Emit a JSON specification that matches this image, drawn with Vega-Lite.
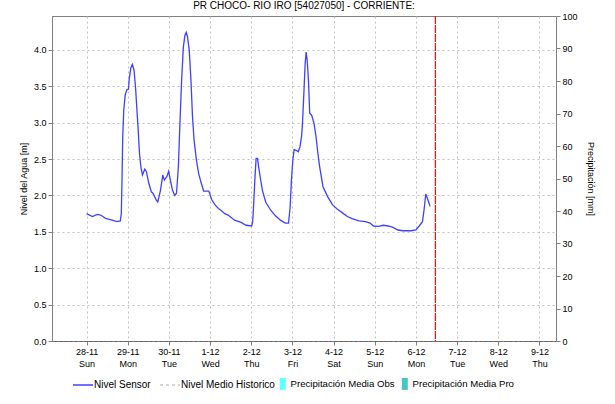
{
  "$schema": "https://vega.github.io/schema/vega-lite/v6.json",
  "width": 504,
  "height": 325,
  "autosize": {"type": "none"},
  "padding": {"left": 52, "top": 16, "right": 59, "bottom": 63},
  "background": "white",
  "title": {"text": "PR CHOCO- RIO IRO [54027050] - CORRIENTE:", "font": "Liberation Sans", "fontSize": 10, "fontWeight": "normal", "color": "#000000", "anchor": "middle", "offset": 1},
  "config": {
    "view": {"stroke": "#808080", "strokeWidth": 1},
    "axis": {"labelFont": "Liberation Sans", "labelFontSize": 9, "labelColor": "#000000", "titleFont": "Liberation Sans", "titleFontSize": 9, "titleFontWeight": "normal", "titleColor": "#000000", "domainColor": "#808080", "tickColor": "#808080", "tickSize": 4, "gridColor": "#c0c0c0", "gridDash": [2, 3], "gridWidth": 1},
    "legend": {"labelFont": "Liberation Sans", "labelFontSize": 10, "labelColor": "#000000", "padding": 0}
  },
  "datasets": {
    "nivel": [
      {"t": "2021-11-28T00:00", "nivel": 1.75},
      {"t": "2021-11-28T03:25", "nivel": 1.71},
      {"t": "2021-11-28T06:15", "nivel": 1.74},
      {"t": "2021-11-28T08:15", "nivel": 1.73},
      {"t": "2021-11-28T11:05", "nivel": 1.685},
      {"t": "2021-11-28T14:55", "nivel": 1.66},
      {"t": "2021-11-28T17:40", "nivel": 1.64},
      {"t": "2021-11-28T19:40", "nivel": 1.65},
      {"t": "2021-11-28T20:15", "nivel": 1.75},
      {"t": "2021-11-28T20:35", "nivel": 2.14},
      {"t": "2021-11-28T21:05", "nivel": 2.81},
      {"t": "2021-11-28T21:40", "nivel": 3.17},
      {"t": "2021-11-28T22:30", "nivel": 3.38},
      {"t": "2021-11-28T23:25", "nivel": 3.45},
      {"t": "2021-11-29T00:25", "nivel": 3.46},
      {"t": "2021-11-29T00:50", "nivel": 3.59},
      {"t": "2021-11-29T01:45", "nivel": 3.75},
      {"t": "2021-11-29T02:40", "nivel": 3.8},
      {"t": "2021-11-29T03:40", "nivel": 3.72},
      {"t": "2021-11-29T04:35", "nivel": 3.47},
      {"t": "2021-11-29T05:25", "nivel": 3.15},
      {"t": "2021-11-29T06:05", "nivel": 2.9},
      {"t": "2021-11-29T06:50", "nivel": 2.58},
      {"t": "2021-11-29T07:40", "nivel": 2.39},
      {"t": "2021-11-29T08:35", "nivel": 2.28},
      {"t": "2021-11-29T09:55", "nivel": 2.36},
      {"t": "2021-11-29T10:50", "nivel": 2.33},
      {"t": "2021-11-29T12:15", "nivel": 2.17},
      {"t": "2021-11-29T13:45", "nivel": 2.05},
      {"t": "2021-11-29T14:40", "nivel": 2.03},
      {"t": "2021-11-29T16:35", "nivel": 1.94},
      {"t": "2021-11-29T17:30", "nivel": 1.91},
      {"t": "2021-11-29T19:05", "nivel": 2.07},
      {"t": "2021-11-29T20:25", "nivel": 2.28},
      {"t": "2021-11-29T21:20", "nivel": 2.21},
      {"t": "2021-11-29T22:50", "nivel": 2.26},
      {"t": "2021-11-29T23:50", "nivel": 2.33},
      {"t": "2021-11-30T00:50", "nivel": 2.21},
      {"t": "2021-11-30T02:05", "nivel": 2.07},
      {"t": "2021-11-30T03:25", "nivel": 2.0},
      {"t": "2021-11-30T04:25", "nivel": 2.03},
      {"t": "2021-11-30T05:30", "nivel": 2.39},
      {"t": "2021-11-30T06:30", "nivel": 3.04},
      {"t": "2021-11-30T07:25", "nivel": 3.59},
      {"t": "2021-11-30T08:25", "nivel": 4.04},
      {"t": "2021-11-30T09:20", "nivel": 4.2},
      {"t": "2021-11-30T10:05", "nivel": 4.24},
      {"t": "2021-11-30T10:50", "nivel": 4.18},
      {"t": "2021-11-30T11:50", "nivel": 4.0},
      {"t": "2021-11-30T12:50", "nivel": 3.59},
      {"t": "2021-11-30T13:45", "nivel": 3.08},
      {"t": "2021-11-30T14:40", "nivel": 2.76},
      {"t": "2021-11-30T16:00", "nivel": 2.49},
      {"t": "2021-11-30T17:20", "nivel": 2.3},
      {"t": "2021-11-30T18:50", "nivel": 2.17},
      {"t": "2021-11-30T20:15", "nivel": 2.06},
      {"t": "2021-11-30T21:40", "nivel": 2.06},
      {"t": "2021-11-30T23:15", "nivel": 2.06},
      {"t": "2021-12-01T01:00", "nivel": 1.94},
      {"t": "2021-12-01T02:55", "nivel": 1.87},
      {"t": "2021-12-01T04:50", "nivel": 1.82},
      {"t": "2021-12-01T06:40", "nivel": 1.79},
      {"t": "2021-12-01T08:35", "nivel": 1.75},
      {"t": "2021-12-01T10:30", "nivel": 1.73},
      {"t": "2021-12-01T14:15", "nivel": 1.66},
      {"t": "2021-12-01T18:05", "nivel": 1.63},
      {"t": "2021-12-01T21:00", "nivel": 1.59},
      {"t": "2021-12-02T00:15", "nivel": 1.58},
      {"t": "2021-12-02T00:50", "nivel": 1.64},
      {"t": "2021-12-02T01:20", "nivel": 1.84},
      {"t": "2021-12-02T02:05", "nivel": 2.21},
      {"t": "2021-12-02T02:50", "nivel": 2.51},
      {"t": "2021-12-02T03:40", "nivel": 2.51},
      {"t": "2021-12-02T04:15", "nivel": 2.4},
      {"t": "2021-12-02T05:10", "nivel": 2.26},
      {"t": "2021-12-02T06:30", "nivel": 2.07},
      {"t": "2021-12-02T08:25", "nivel": 1.91},
      {"t": "2021-12-02T11:15", "nivel": 1.8},
      {"t": "2021-12-02T14:05", "nivel": 1.72},
      {"t": "2021-12-02T17:00", "nivel": 1.66},
      {"t": "2021-12-02T19:50", "nivel": 1.62},
      {"t": "2021-12-02T21:45", "nivel": 1.62},
      {"t": "2021-12-02T22:40", "nivel": 1.84},
      {"t": "2021-12-02T23:25", "nivel": 2.21},
      {"t": "2021-12-03T00:15", "nivel": 2.49},
      {"t": "2021-12-03T01:00", "nivel": 2.63},
      {"t": "2021-12-03T02:05", "nivel": 2.62},
      {"t": "2021-12-03T03:25", "nivel": 2.6},
      {"t": "2021-12-03T04:25", "nivel": 2.67},
      {"t": "2021-12-03T05:20", "nivel": 2.81},
      {"t": "2021-12-03T05:55", "nivel": 3.01},
      {"t": "2021-12-03T06:40", "nivel": 3.4},
      {"t": "2021-12-03T07:25", "nivel": 3.81},
      {"t": "2021-12-03T08:00", "nivel": 3.97},
      {"t": "2021-12-03T08:35", "nivel": 3.86},
      {"t": "2021-12-03T09:20", "nivel": 3.59},
      {"t": "2021-12-03T10:05", "nivel": 3.13},
      {"t": "2021-12-03T11:15", "nivel": 3.1},
      {"t": "2021-12-03T12:35", "nivel": 2.99},
      {"t": "2021-12-03T13:45", "nivel": 2.81},
      {"t": "2021-12-03T14:50", "nivel": 2.58},
      {"t": "2021-12-03T15:50", "nivel": 2.4},
      {"t": "2021-12-03T17:50", "nivel": 2.12},
      {"t": "2021-12-03T20:35", "nivel": 1.98},
      {"t": "2021-12-03T23:25", "nivel": 1.87},
      {"t": "2021-12-04T02:15", "nivel": 1.81},
      {"t": "2021-12-04T05:10", "nivel": 1.76},
      {"t": "2021-12-04T08:00", "nivel": 1.71},
      {"t": "2021-12-04T10:50", "nivel": 1.68},
      {"t": "2021-12-04T14:40", "nivel": 1.65},
      {"t": "2021-12-04T18:30", "nivel": 1.64},
      {"t": "2021-12-04T21:20", "nivel": 1.62},
      {"t": "2021-12-04T23:15", "nivel": 1.58},
      {"t": "2021-12-05T02:05", "nivel": 1.575},
      {"t": "2021-12-05T05:00", "nivel": 1.59},
      {"t": "2021-12-05T07:50", "nivel": 1.58},
      {"t": "2021-12-05T10:40", "nivel": 1.56},
      {"t": "2021-12-05T13:30", "nivel": 1.525},
      {"t": "2021-12-05T16:25", "nivel": 1.515},
      {"t": "2021-12-05T21:10", "nivel": 1.515},
      {"t": "2021-12-06T00:00", "nivel": 1.525},
      {"t": "2021-12-06T01:55", "nivel": 1.58},
      {"t": "2021-12-06T03:50", "nivel": 1.64},
      {"t": "2021-12-06T04:50", "nivel": 1.82},
      {"t": "2021-12-06T05:45", "nivel": 2.02},
      {"t": "2021-12-06T06:40", "nivel": 1.96},
      {"t": "2021-12-06T08:15", "nivel": 1.85}
    ],
    "precipitacion": [],
    "ahora": [{"t": "2021-12-06T11:20"}]
  },
  "layer": [
    {
      "data": {"name": "nivel"},
      "mark": {"type": "line", "strokeWidth": 1.3, "interpolate": "linear"},
      "encoding": {
        "x": {"field": "t", "type": "temporal",
          "scale": {"domain": [{"year": 2021, "month": 11, "date": 27, "hours": 6, "minutes": 45}, {"year": 2021, "month": 12, "date": 9, "hours": 6, "minutes": 45}]},
          "axis": {"title": null, "tickCount": {"interval": "day", "step": 1}, "labelExpr": "[timeFormat(datum.value, '%-d-%m'), timeFormat(datum.value, '%a')]", "labelLineHeight": 12, "labelPadding": 2, "domainDash": [1, 1], "domainColor": "#404040"}},
        "y": {"field": "nivel", "type": "quantitative",
          "scale": {"domain": [0, 4.465], "nice": false, "zero": true},
          "axis": {"title": "Nivel del Agua [m]", "values": [0, 0.5, 1, 1.5, 2, 2.5, 3, 3.5, 4], "format": ".1f", "titlePadding": 5}},
        "color": {"datum": "Nivel Sensor", "type": "nominal",
          "scale": {"domain": ["Nivel Sensor", "Nivel Medio Historico"], "range": ["#4040ff", "#c8c8c8"]},
          "legend": {"title": null, "orient": "none", "direction": "horizontal", "legendX": 20, "legendY": 358, "symbolSize": 400, "symbolStrokeWidth": 1.3, "labelOffset": 0, "columnPadding": 6,
            "encode": {"symbols": {"update": {"strokeDash": {"signal": "datum.value === 'Nivel Medio Historico' ? [3, 3] : [1, 0]"}, "stroke": {"signal": "datum.value === 'Nivel Medio Historico' ? '#c8c8c8' : '#0000cc'"}}}}}}
      }
    },
    {
      "data": {"name": "precipitacion"},
      "mark": {"type": "bar"},
      "encoding": {
        "x": {"field": "t", "type": "temporal"},
        "y": {"field": "precip", "type": "quantitative",
          "scale": {"domain": [0, 100], "nice": false},
          "axis": {"title": "Precipitación [mm]", "orient": "right", "values": [0, 10, 20, 30, 40, 50, 60, 70, 80, 90, 100], "grid": false, "titleAngle": 90, "titlePadding": 8}},
        "fill": {"field": "serie", "type": "nominal",
          "scale": {"domain": ["Precipitación Media Obs", "Precipitación Media Pro"], "range": ["#66ffff", "#44c8c4"]},
          "legend": {"title": null, "orient": "none", "direction": "horizontal", "legendX": 226, "legendY": 363, "symbolType": "M-1,-2H1V2H-1Z", "symbolSize": 36, "symbolStrokeWidth": 0, "labelOffset": 3, "labelFontSize": 9.6, "columnPadding": 5}}
      }
    },
    {
      "data": {"name": "ahora"},
      "mark": {"type": "rule", "color": "#e01010", "strokeWidth": 1.2, "strokeDash": [8, 1]},
      "encoding": {"x": {"field": "t", "type": "temporal"}}
    }
  ],
  "resolve": {"scale": {"y": "independent", "color": "independent"}}
}
